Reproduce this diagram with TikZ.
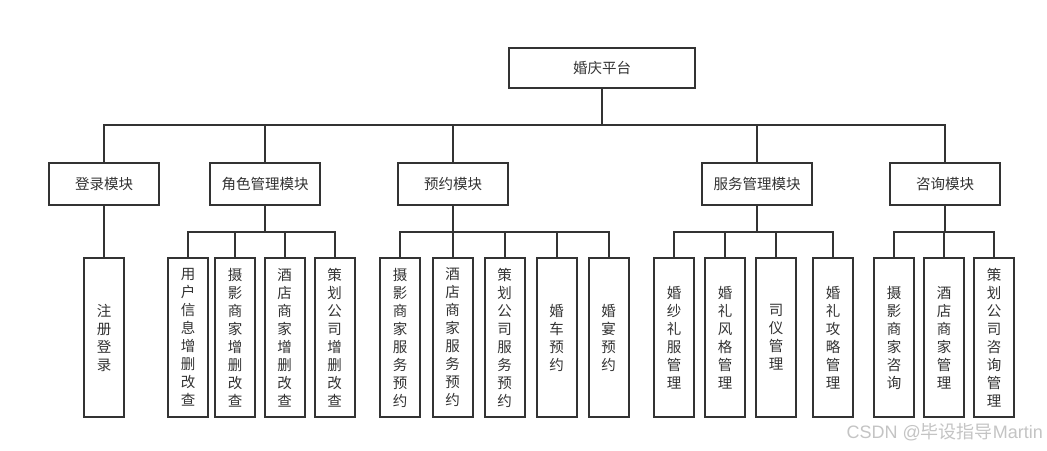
\documentclass[tikz,border=0pt]{standalone}
\usepackage{fontspec}
\newfontfamily\cjk{Noto Sans CJK SC}
\newfontfamily\latn{Liberation Sans}
\definecolor{linec}{HTML}{333333}
\definecolor{wm}{HTML}{C4C4C4}
\begin{document}
\begin{tikzpicture}[x=1pt,y=-1pt,
  every node/.style={inner sep=0pt, text=linec},
  rootbox/.style={draw=linec, line width=2pt, minimum width=186pt, minimum height=40pt, font=\cjk\fontsize{14.5}{18}\selectfont},
  modbox/.style={draw=linec, line width=2pt, minimum width=110pt, minimum height=42pt, font=\cjk\fontsize{14.5}{18}\selectfont},
  leafbox/.style={draw=linec, line width=2pt, minimum width=40pt, minimum height=159pt, align=center, font=\cjk\fontsize{14.5}{18}\selectfont},
  conn/.style={draw=linec, line width=2pt}
]
\useasboundingbox[fill=white] (0,0) rectangle (1047,450);

\node[rootbox] (root) at (602,68) {婚庆平台};

\node[modbox] (m1) at (104,184) {登录模块};
\node[modbox] (m2) at (265,184) {角色管理模块};
\node[modbox] (m3) at (453,184) {预约模块};
\node[modbox] (m4) at (757,184) {服务管理模块};
\node[modbox] (m5) at (945,184) {咨询模块};

\node[leafbox] (l11) at (104,337.5) {注\\册\\登\\录};

\node[leafbox] (l21) at (188,337.5) {用\\户\\信\\息\\增\\删\\改\\查};
\node[leafbox] (l22) at (235,337.5) {摄\\影\\商\\家\\增\\删\\改\\查};
\node[leafbox] (l23) at (284.5,337.5) {酒\\店\\商\\家\\增\\删\\改\\查};
\node[leafbox] (l24) at (334.5,337.5) {策\\划\\公\\司\\增\\删\\改\\查};

\node[leafbox] (l31) at (400,337.5) {摄\\影\\商\\家\\服\\务\\预\\约};
\node[leafbox] (l32) at (452.5,337.5) {酒\\店\\商\\家\\服\\务\\预\\约};
\node[leafbox] (l33) at (504.5,337.5) {策\\划\\公\\司\\服\\务\\预\\约};
\node[leafbox] (l34) at (556.5,337.5) {婚\\车\\预\\约};
\node[leafbox] (l35) at (608.5,337.5) {婚\\宴\\预\\约};

\node[leafbox] (l41) at (674,337.5) {婚\\纱\\礼\\服\\管\\理};
\node[leafbox] (l42) at (725,337.5) {婚\\礼\\风\\格\\管\\理};
\node[leafbox] (l43) at (776,337.5) {司\\仪\\管\\理};
\node[leafbox] (l44) at (833,337.5) {婚\\礼\\攻\\略\\管\\理};

\node[leafbox] (l51) at (894,337.5) {摄\\影\\商\\家\\咨\\询};
\node[leafbox] (l52) at (944,337.5) {酒\\店\\商\\家\\管\\理};
\node[leafbox] (l53) at (994,337.5) {策\\划\\公\\司\\咨\\询\\管\\理};

% root to modules
\foreach \m in {m1,m2,m3,m4,m5}
  \draw[conn] (root.south) -- ++(0,36) -| (\m.north);

% modules to leaves
\draw[conn] (m1.south) -- (l11.north);
\foreach \l in {l21,l22,l23,l24}
  \draw[conn] (m2.south) -- ++(0,26) -| (\l.north);
\foreach \l in {l31,l32,l33,l34,l35}
  \draw[conn] (m3.south) -- ++(0,26) -| (\l.north);
\foreach \l in {l41,l42,l43,l44}
  \draw[conn] (m4.south) -- ++(0,26) -| (\l.north);
\foreach \l in {l51,l52,l53}
  \draw[conn] (m5.south) -- ++(0,26) -| (\l.north);

\node[anchor=east, text=wm, font=\cjk\fontsize{18}{20}\selectfont] (wmk) at (1043,432) {{\latn CSDN @}毕设指导{\latn Martin}};
\end{tikzpicture}
\end{document}
